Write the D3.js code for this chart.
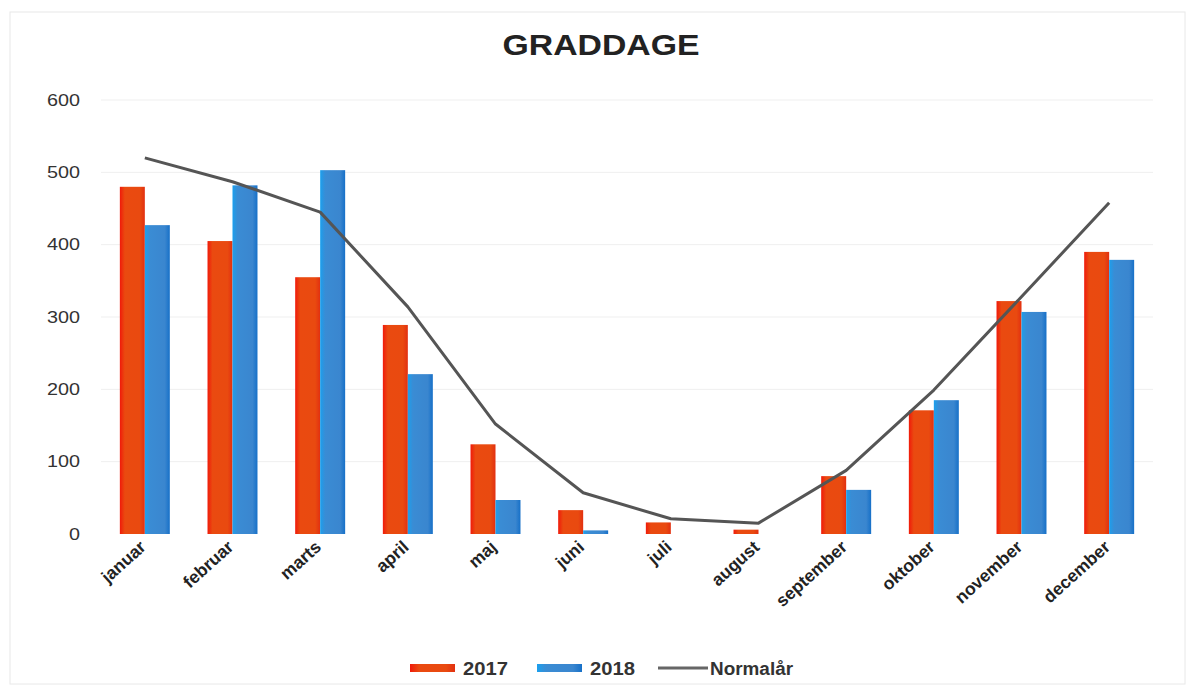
<!DOCTYPE html>
<html><head><meta charset="utf-8">
<script src="https://cdn.jsdelivr.net/npm/d3@7"></script>
<style>body{margin:0;background:#fff;font-family:"Liberation Sans",Arial,sans-serif}</style>
</head><body><svg id="c" width="1195" height="688"></svg>
<script>
const months = ["januar","februar","marts","april","maj","juni","juli","august","september","oktober","november","december"];
const v2017 = [480,405,355,289,124,33,16,6,80,171,322,390];
const v2018 = [427,482,503,221,47,5,0,0,61,185,307,379];
const normal = [520,487,445,314,152,57,21,15,88,199,328,458];
const yTicks = [0,100,200,300,400,500,600];
const seriesNames = ["2017","2018","Normalår"];

const svg = d3.select("#c");
const defs = svg.append("defs");
function grad(id, stops){
  const g = defs.append("linearGradient").attr("id",id).attr("x1","0").attr("x2","1").attr("y1","0").attr("y2","0");
  stops.forEach(s=>g.append("stop").attr("offset",s[0]).attr("stop-color",s[1]));
}
grad("gRed",[[0,"#f01a0a"],[0.2,"#ea4a10"],[0.8,"#e94a10"],[1,"#e23010"]]);
grad("gBlue",[[0,"#1aa0ee"],[0.2,"#3a8cd4"],[0.8,"#3a86cf"],[1,"#1670c8"]]);

// faint frame
svg.append("rect").attr("x",10).attr("y",12).attr("width",1175).attr("height",672)
  .attr("fill","none").attr("stroke","#e8e8e8").attr("stroke-width",1);

const x = d3.scaleBand().domain(months).range([101,1153]).paddingInner(0.43).paddingOuter(0.215);
const y = d3.scaleLinear().domain([0,600]).range([534,100]);
const bw = x.bandwidth()/2;

// grid
svg.append("g").selectAll("line").data(yTicks.slice(1)).join("line")
  .attr("x1",101).attr("x2",1153).attr("y1",d=>y(d)).attr("y2",d=>y(d))
  .attr("stroke","#efefef").attr("stroke-width",1);

// y axis
const ya = svg.append("g").attr("transform","translate(80,0)")
  .call(d3.axisLeft(y).tickValues(yTicks).tickSize(0).tickPadding(0));
ya.select(".domain").remove();
ya.selectAll("text").attr("font-size",16).attr("fill","#333").attr("font-family","Liberation Sans, Arial, sans-serif")
  .attr("textLength",d=>d===0?11:33).attr("lengthAdjust","spacingAndGlyphs");

// bars
svg.append("g").selectAll("rect").data(months).join("rect")
  .attr("x",d=>x(d)).attr("width",bw)
  .attr("y",(d,i)=>y(v2017[i])).attr("height",(d,i)=>y(0)-y(v2017[i]))
  .attr("fill","url(#gRed)");
svg.append("g").selectAll("rect").data(months).join("rect")
  .attr("x",d=>x(d)+bw).attr("width",bw)
  .attr("y",(d,i)=>y(v2018[i])).attr("height",(d,i)=>y(0)-y(v2018[i]))
  .attr("fill","url(#gBlue)");

// line
const line = d3.line().x((d,i)=>x(months[i])+x.bandwidth()/2).y(d=>y(d));
svg.append("path").datum(normal).attr("d",line).attr("fill","none")
  .attr("stroke","#555").attr("stroke-width",3).attr("stroke-linejoin","round");

// x axis labels
const xa = svg.append("g").attr("transform","translate(0,540)")
  .call(d3.axisBottom(x).tickSize(0).tickPadding(0));
xa.select(".domain").remove();
xa.selectAll("text").attr("font-size",17.5).attr("font-weight","bold").attr("fill","#222")
  .attr("font-family","Liberation Sans, Arial, sans-serif")
  .attr("text-anchor","end").attr("dy","0.35em")
  .attr("transform","translate(-2,4) rotate(-42)");

// title
svg.append("text").attr("x",601).attr("y",55).attr("text-anchor","middle")
  .attr("font-size",30).attr("font-weight","bold").attr("fill","#222")
  .attr("textLength",197).attr("lengthAdjust","spacingAndGlyphs").text("GRADDAGE");

// legend
const lg = svg.append("g").attr("font-size",18).attr("font-weight","bold").attr("fill","#333");
const lx = [410,537,658];
const tw = [45,45,83];
lg.append("rect").attr("x",lx[0]).attr("y",664).attr("width",45).attr("height",8).attr("fill","url(#gRed)");
lg.append("rect").attr("x",lx[1]).attr("y",664).attr("width",45).attr("height",8).attr("fill","url(#gBlue)");
lg.append("line").attr("x1",lx[2]).attr("x2",lx[2]+50).attr("y1",668).attr("y2",668).attr("stroke","#666").attr("stroke-width",3);
seriesNames.forEach((n,i)=>{
  lg.append("text").attr("x",i==2?710:lx[i]+53).attr("y",675).text(n)
    .attr("textLength",tw[i]).attr("lengthAdjust","spacingAndGlyphs");
});
</script></body></html>
